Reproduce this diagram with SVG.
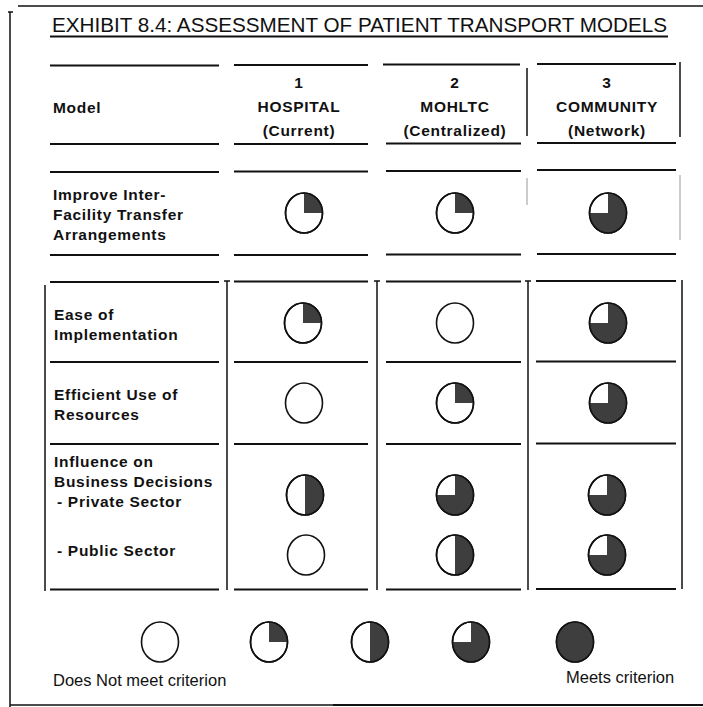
<svg xmlns="http://www.w3.org/2000/svg" width="703" height="707" viewBox="0 0 703 707">
<style>
.t{font-family:"Liberation Sans",Arial,sans-serif;fill:#111}
.b{font-weight:bold;font-size:15.5px;letter-spacing:0.7px}
.h{text-anchor:middle}
.lg{font-size:16.5px}
.ln{stroke:#111;stroke-width:2;fill:none}
.vl{stroke:#111;stroke-width:1.5;fill:none}
.fv{stroke:#999;stroke-width:1;fill:none}
.o{fill:#fff;stroke:#111;stroke-width:1.6}
.s{fill:#3e3e3e}
.r{fill:none;stroke:#111;stroke-width:1.6}
</style>
<defs>
<g id="e0"><ellipse class="o" rx="18.5" ry="20"/></g>
<g id="e25"><ellipse class="o" rx="18.5" ry="20"/><path class="s" d="M0,0 L0,-20 A18.5,20 0 0 1 18.5,0 Z"/><ellipse class="r" rx="18.5" ry="20"/></g>
<g id="e50"><ellipse class="o" rx="18.5" ry="20"/><path class="s" d="M0,-20 A18.5,20 0 0 1 0,20 Z"/><ellipse class="r" rx="18.5" ry="20"/></g>
<g id="e75"><ellipse class="o" rx="18.5" ry="20"/><path class="s" d="M0,0 L0,-20 A18.5,20 0 1 1 -18.5,0 Z"/><ellipse class="r" rx="18.5" ry="20"/></g>
<g id="e100"><ellipse class="o" rx="18.5" ry="20"/><ellipse class="s" rx="18.5" ry="20"/><ellipse class="r" rx="18.5" ry="20"/></g>
</defs>
<rect width="703" height="707" fill="#fff"/>
<g id="frame">
<path class="vl" d="M18,6 H703"/>
<path class="vl" d="M10,12 V707 M8,12 H13"/>
<path class="vl" d="M10,705 H333"/>
<path class="ln" d="M333,705 H703"/>
</g>
<g id="title">
<text class="t" x="52" y="32" font-size="19.5" textLength="615" lengthAdjust="spacingAndGlyphs">EXHIBIT 8.4:  ASSESSMENT OF PATIENT TRANSPORT MODELS</text>
<path class="ln" d="M50,36.5 H668"/>
</g>
<g id="connectors">
<path class="ln" d="M50,65.5 H219 M234,65 H368 M383,64.5 H520 M537,64 H676"/>
<path class="ln" d="M50,144 H219 M234,144 H368 M386,143.5 H521 M537,143 H676"/>
<path class="vl" d="M527,68 V136 M680,62 V137"/>
<path class="ln" d="M50,172 H219 M234,171.5 H368 M386,171 H521 M537,170 H676"/>
<path class="ln" d="M50,255 H219 M234,255 H368 M386,254.5 H521 M537,254 H676"/>
<path class="fv" d="M680,175 V240 M527,178 V205"/>
<path class="ln" d="M50,282 H219 M234,281.5 H368 M386,281.5 H521 M536,281 H676"/>
<path class="ln" d="M50,362 H219 M234,362 H368 M386,362 H521 M536,361.5 H676"/>
<path class="ln" d="M50,444 H219 M234,444 H368 M386,444 H521 M536,443.5 H676"/>
<path class="ln" d="M50,589.5 H219 M234,589.5 H368 M386,589.5 H521 M536,589 H676"/>
<path class="vl" d="M45,285 V591 M227,281 V590 M377,281 V590 M528,281 V590 M682,280 V589"/>
<path class="vl" d="M224,281 H230 M374,281 H380 M525,281 H531"/>
</g>
<g id="header">
<text class="t b" x="53" y="113">Model</text>
<text class="t b h" x="299" y="88">1</text>
<text class="t b h" x="299" y="112">HOSPITAL</text>
<text class="t b h" x="299" y="136">(Current)</text>
<text class="t b h" x="455" y="88">2</text>
<text class="t b h" x="455" y="112">MOHLTC</text>
<text class="t b h" x="455" y="136">(Centralized)</text>
<text class="t b h" x="607" y="88">3</text>
<text class="t b h" x="607" y="112">COMMUNITY</text>
<text class="t b h" x="607" y="136">(Network)</text>
</g>
<g id="row-improve">
<text class="t b" x="53" y="200">Improve Inter-</text>
<text class="t b" x="53" y="220">Facility Transfer</text>
<text class="t b" x="53" y="240">Arrangements</text>
<use href="#e25" x="304" y="213"/>
<use href="#e25" x="455" y="213"/>
<use href="#e75" x="608" y="213"/>
</g>
<g id="row-ease">
<text class="t b" x="54" y="320">Ease of</text>
<text class="t b" x="54" y="340">Implementation</text>
<use href="#e25" x="303" y="323"/>
<use href="#e0" x="455" y="323"/>
<use href="#e75" x="608" y="323"/>
</g>
<g id="row-efficient">
<text class="t b" x="54" y="400">Efficient Use of</text>
<text class="t b" x="54" y="420">Resources</text>
<use href="#e0" x="304" y="403"/>
<use href="#e25" x="455" y="403"/>
<use href="#e75" x="608" y="403"/>
</g>
<g id="row-influence">
<text class="t b" x="54" y="467">Influence on</text>
<text class="t b" x="54" y="487">Business Decisions</text>
<text class="t b" x="57" y="507">- Private Sector</text>
<text class="t b" x="57" y="556">- Public Sector</text>
<use href="#e50" x="305" y="495"/>
<use href="#e75" x="455" y="495"/>
<use href="#e75" x="607" y="495"/>
<use href="#e0" x="306" y="555"/>
<use href="#e50" x="455" y="555"/>
<use href="#e75" x="607" y="555"/>
</g>
<g id="legend">
<use href="#e0" x="160" y="642"/>
<use href="#e25" x="269" y="642"/>
<use href="#e50" x="370" y="642"/>
<use href="#e75" x="471" y="642"/>
<use href="#e100" x="575" y="642"/>
<text class="t lg" x="53" y="686">Does Not meet criterion</text>
<text class="t lg" x="566" y="683">Meets criterion</text>
</g>
</svg>
